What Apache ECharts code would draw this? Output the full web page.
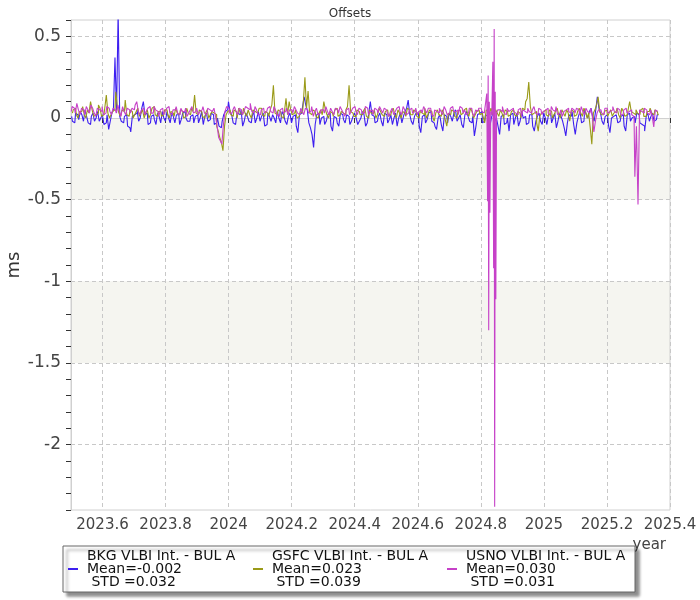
<!DOCTYPE html>
<html><head><meta charset="utf-8">
<script src="https://cdn.jsdelivr.net/npm/echarts@6/dist/echarts.min.js"></script>
<style>html,body{margin:0;padding:0;background:#fff}#c{width:700px;height:600px}</style>
</head><body><div id="c"></div>
<script>
// ---------- DATA ----------
const chartTitle = 'Offsets';
const xAxisName = 'year';
const yAxisName = 'ms';
const seriesNames = ['BKG VLBI Int. - BUL A', 'GSFC VLBI Int. - BUL A', 'USNO VLBI Int. - BUL A'];
const legendMeans = ['-0.002', '0.023', '0.030'];
const legendStds = ['0.032', '0.039', '0.031'];
const xTickValues = [2023.6, 2023.8, 2024, 2024.2, 2024.4, 2024.6, 2024.8, 2025, 2025.2, 2025.4];
const yLabelValues = [-2, -1.5, -1, -0.5, 0, 0.5];
const shadedBands = [[0, -0.5], [-1, -1.5]];

// sessions sampled about every 0.005 year: main values at start + i*step, mid values half a step later
const sampleStep = 0.01;
const bkgStartYear = 2023.502;
const gsfcStartYear = 2023.5045;
const usnoStartYear = 2023.501;

const bkgValues = [
  0.01, -0.03, 0.02, 0.04, -0.02, 0.01, -0.04, 0.03, 0.00, -0.02,
  0.02, -0.03, -0.07, 0.03, 0.37, 0.65, -0.02, 0.01, -0.05, -0.085,
  0.02, 0.05, 0.00, 0.10, 0.03, -0.03, 0.02, -0.04, 0.01, 0.04,
  -0.02, 0.00, 0.03, -0.03, 0.02, -0.01, 0.04, -0.02, 0.01, -0.03,
  0.02, 0.00, -0.04, 0.03, -0.01, 0.02, -0.03, -0.05, -0.02, 0.04,
  0.10, 0.02, -0.04, 0.03, 0.05, -0.02, 0.01, -0.03, 0.04, 0.00,
  -0.02, 0.03, -0.04, 0.01, 0.02, -0.03, 0.00, 0.04, -0.02, 0.01,
  -0.03, 0.02, -0.09, 0.03, 0.13, 0.05, -0.06, -0.18, 0.02, -0.04,
  0.01, -0.02, 0.03, -0.08, 0.00, -0.05, 0.02, -0.03, 0.01, -0.02,
  0.03, -0.04, 0.00, 0.02, -0.03, 0.10, 0.01, -0.02, 0.03, -0.05,
  0.02, -0.01, -0.04, 0.03, 0.00, -0.03, 0.04, 0.11, -0.02, 0.01,
  0.03, -0.09, 0.02, -0.01, 0.04, -0.03, -0.07, 0.02, -0.08, 0.01,
  0.03, -0.02, 0.05, 0.00, -0.04, 0.02, 0.01, -0.03, -0.11, 0.02,
  0.04, -0.02, 0.01, -0.04, 0.03, 0.00, -0.10, 0.02, -0.03, -0.08,
  0.03, 0.00, -0.05, 0.04, 0.01, -0.03, 0.02, -0.08, 0.01, -0.02,
  0.03, -0.04, 0.02, 0.00, -0.06, 0.03, -0.02, -0.11, 0.02, 0.04,
  -0.10, 0.01, -0.03, 0.05, 0.00, 0.06, -0.02, 0.13, 0.03, -0.04,
  0.02, -0.09, 0.01, 0.03, -0.02, 0.02, -0.08, 0.03, 0.00, -0.03,
  0.02, -0.04, -0.08, 0.03, 0.01, -0.02, 0.02
];
const bkgMidValues = [
  -0.02, 0.03, -0.01, 0.02, 0.05, -0.03, 0.01, -0.02, 0.04, 0.00,
  -0.04, 0.02, -0.02, 0.05, 0.03, 0.01, -0.03, 0.02, -0.06, 0.01,
  0.03, -0.02, 0.06, 0.02, -0.04, 0.01, -0.01, 0.03, -0.03, 0.00,
  0.04, -0.03, 0.01, 0.02, -0.04, 0.03, 0.00, -0.02, 0.02, 0.01,
  -0.03, 0.04, 0.01, -0.02, 0.03, -0.04, 0.00, -0.06, 0.02, 0.05,
  0.04, -0.03, 0.00, 0.02, -0.05, 0.03, -0.02, 0.01, -0.03, 0.04,
  0.01, -0.05, 0.03, -0.02, 0.00, 0.04, -0.03, 0.02, -0.04, 0.03,
  0.01, -0.05, 0.02, 0.07, 0.08, -0.03, -0.10, -0.04, 0.03, 0.00,
  -0.04, 0.02, -0.05, 0.01, -0.03, 0.03, -0.01, 0.02, -0.04, 0.01,
  0.00, -0.02, 0.04, -0.05, 0.03, 0.02, -0.03, 0.01, -0.02, 0.03,
  -0.03, 0.02, 0.00, -0.05, 0.03, 0.01, 0.06, 0.02, -0.04, 0.03,
  -0.05, 0.01, -0.03, 0.03, -0.02, -0.05, 0.00, -0.04, 0.02, -0.03,
  0.01, 0.03, -0.02, 0.02, -0.06, 0.04, -0.02, 0.01, -0.05, 0.03,
  -0.03, 0.02, -0.06, 0.01, -0.02, -0.05, 0.01, -0.04, 0.00, 0.02,
  -0.04, 0.03, -0.02, 0.00, -0.04, 0.02, -0.05, -0.02, 0.03, -0.04,
  0.00, 0.02, -0.03, 0.03, -0.02, 0.01, -0.06, -0.03, 0.01, -0.04,
  -0.03, 0.04, -0.02, 0.02, 0.04, 0.01, 0.05, 0.06, -0.02, 0.01,
  -0.04, 0.00, 0.02, -0.03, 0.01, -0.05, 0.02, -0.02, 0.01, 0.03,
  -0.03, -0.05, 0.01, -0.02, 0.03, -0.01
];

const gsfcValues = [
  0.03, 0.06, 0.00, 0.04, 0.02, 0.05, 0.10, 0.01, 0.03, 0.06,
  0.02, 0.14, 0.00, 0.04, 0.16, 0.03, 0.05, 0.11, 0.01, 0.04,
  0.02, 0.06, 0.03, 0.00, 0.05, 0.02, 0.07, 0.01, 0.04, 0.02,
  0.05, 0.00, 0.03, 0.06, 0.02, 0.04, 0.01, 0.03, 0.06, 0.14,
  0.02, 0.04, 0.00, 0.05, 0.02, 0.03, -0.05, -0.12, -0.20, 0.02,
  0.05, 0.01, 0.04, 0.06, 0.02, 0.03, 0.05, 0.00, 0.04, 0.02,
  0.06, 0.01, 0.03, 0.05, 0.20, 0.02, 0.04, 0.00, 0.12, 0.10,
  0.02, 0.05, 0.01, 0.03, 0.25, 0.165, 0.02, 0.04, 0.00, 0.05,
  0.10, 0.02, 0.04, 0.01, 0.06, 0.02, 0.03, 0.05, 0.20, 0.03,
  0.01, 0.04, 0.02, 0.06, 0.00, 0.03, 0.05, 0.02, 0.04, 0.01,
  0.05, 0.02, 0.06, 0.00, 0.03, 0.04, 0.01, 0.05, 0.02, 0.04,
  0.00, 0.03, 0.06, 0.02, 0.04, -0.02, 0.05, 0.01, 0.03, -0.05,
  0.02, 0.04, 0.00, 0.05, 0.03, 0.06, 0.01, 0.04, 0.02, 0.05,
  0.03, -0.03, 0.04, 0.06, 0.01, 0.03, 0.05, 0.00, 0.04, 0.02,
  0.05, 0.01, 0.03, 0.06, 0.10, 0.22, 0.02, 0.04, -0.08, 0.03,
  0.05, 0.01, 0.04, 0.02, 0.06, 0.00, 0.03, 0.05, -0.02, 0.04,
  0.02, 0.06, 0.01, 0.04, 0.03, -0.16, 0.05, 0.13, 0.02, 0.04,
  0.01, 0.05, 0.03, 0.06, 0.00, 0.04, 0.02, 0.10, 0.03, 0.05,
  0.02, 0.06, 0.01, 0.04, 0.03, 0.05, 0.02
];
const gsfcMidValues = [
  0.05, 0.02, 0.04, 0.07, 0.00, 0.03, 0.05, 0.02, 0.08, 0.01,
  0.06, 0.03, 0.02, 0.05, 0.07, 0.01, 0.04, 0.02, 0.05, 0.00,
  0.04, 0.01, 0.05, 0.03, 0.00, 0.06, 0.02, 0.04, 0.01, 0.05,
  0.02, 0.04, 0.01, 0.03, 0.05, 0.00, 0.06, 0.02, 0.04, 0.03,
  0.05, 0.01, 0.03, 0.00, 0.04, 0.02, -0.08, -0.15, -0.05, 0.04,
  0.02, 0.05, 0.00, 0.03, 0.06, 0.01, 0.02, 0.05, 0.03, 0.06,
  0.02, 0.04, 0.01, 0.08, 0.03, 0.05, 0.01, 0.04, 0.02, 0.05,
  0.03, 0.00, 0.04, 0.10, 0.06, 0.03, 0.05, 0.01, 0.03, 0.02,
  0.05, 0.00, 0.03, 0.05, 0.01, 0.04, 0.02, 0.07, 0.04, 0.01,
  0.05, 0.02, 0.04, 0.01, 0.05, 0.03, 0.00, 0.06, 0.02, 0.04,
  0.01, 0.04, 0.02, 0.05, 0.00, 0.03, 0.06, 0.02, 0.05, 0.01,
  0.04, 0.02, 0.00, 0.05, 0.01, 0.03, 0.02, 0.05, -0.01, 0.03,
  0.05, 0.01, 0.04, 0.02, 0.05, 0.03, 0.06, 0.00, 0.04, 0.02,
  0.01, 0.05, 0.02, 0.03, 0.05, 0.01, 0.03, 0.05, 0.01, 0.04,
  0.02, 0.04, 0.00, 0.05, 0.12, 0.07, 0.03, -0.03, 0.01, 0.04,
  0.02, 0.05, 0.00, 0.04, 0.02, 0.05, 0.01, 0.03, 0.05, 0.01,
  0.04, 0.03, 0.06, 0.00, -0.06, 0.03, 0.08, 0.04, 0.02, 0.05,
  0.03, 0.01, 0.04, 0.02, 0.06, 0.01, 0.05, 0.04, 0.02, 0.03,
  0.05, 0.01, 0.04, 0.06, 0.02, 0.04
];

const usnoValues = [
  0.04, 0.06, 0.09, 0.02, 0.05, 0.07, 0.03, 0.06, 0.01, 0.05,
  0.07, 0.03, 0.06, 0.02, 0.05, 0.08, 0.01, 0.04, 0.06, 0.03,
  0.05, 0.10, 0.02, 0.06, 0.04, 0.07, 0.03, 0.05, 0.01, 0.06,
  0.04, 0.07, 0.02, 0.05, 0.03, 0.06, 0.04, 0.01, 0.05, 0.03,
  0.06, 0.04, 0.07, 0.02, 0.05, 0.03, 0.01, -0.12, -0.16, 0.04,
  0.06, 0.03, 0.07, 0.02, 0.05, 0.04, 0.06, 0.09, 0.03, 0.05,
  0.02, 0.06, 0.04, 0.07, 0.03, 0.05, 0.01, 0.06, 0.04, 0.02,
  0.05, 0.07, 0.03, 0.06, 0.02, 0.05, 0.04, 0.01, 0.06, 0.03,
  0.05, 0.07, 0.02, 0.04, 0.06, 0.03, 0.05, 0.01, 0.06, 0.04,
  0.07, 0.02, 0.05, 0.03, 0.06, 0.04, 0.02, 0.05, 0.07, 0.03,
  0.05, 0.01, 0.06, 0.04, 0.07, 0.02, 0.05, 0.03, 0.06, 0.04,
  0.02, 0.05, 0.07, 0.03, 0.06, 0.01, 0.04, 0.06, 0.02, 0.05,
  0.03, 0.07, 0.04, 0.02, 0.06, 0.05, 0.03, 0.06, 0.01, 0.04,
  0.06, 0.03, 0.05, 0.04, 0.06, 0.03, 0.05, 0.07, 0.02, 0.04,
  0.06, 0.03, 0.05, 0.01, 0.04, 0.06, 0.03, 0.07, 0.02, 0.05,
  0.04, 0.06, 0.02, 0.05, 0.07, 0.03, 0.01, 0.05, 0.04, 0.06,
  0.03, 0.05, 0.07, 0.02, 0.04, 0.06, -0.085, 0.03, 0.05, 0.02,
  0.06, 0.04, 0.07, 0.03, 0.05, 0.02, 0.06, 0.04, 0.02, -0.36,
  -0.53, 0.04, 0.06, 0.03, 0.05, -0.055, 0.04
];
const usnoMidValues = [
  0.07, 0.03, 0.05, 0.06, 0.02, 0.05, 0.08, 0.03, 0.06, 0.04,
  0.02, 0.07, 0.04, 0.06, 0.03, 0.04, 0.07, 0.02, 0.05, 0.06,
  0.08, 0.04, 0.05, 0.02, 0.06, 0.03, 0.07, 0.04, 0.05, 0.02,
  0.06, 0.03, 0.05, 0.07, 0.02, 0.04, 0.06, 0.03, 0.07, 0.04,
  0.02, 0.05, 0.03, 0.06, 0.04, 0.06, -0.05, -0.14, -0.04, 0.07,
  0.03, 0.05, 0.04, 0.06, 0.02, 0.07, 0.05, 0.04, 0.07, 0.02,
  0.05, 0.03, 0.06, 0.04, 0.07, 0.02, 0.05, 0.03, 0.06, 0.05,
  0.03, 0.05, 0.02, 0.04, 0.06, 0.03, 0.07, 0.04, 0.02, 0.05,
  0.03, 0.04, 0.06, 0.02, 0.05, 0.07, 0.03, 0.05, 0.02, 0.06,
  0.04, 0.06, 0.03, 0.07, 0.02, 0.05, 0.06, 0.03, 0.05, 0.06,
  0.03, 0.04, 0.02, 0.06, 0.04, 0.07, 0.02, 0.05, 0.03, 0.06,
  0.04, 0.03, 0.05, 0.06, 0.02, 0.05, 0.03, 0.04, 0.07, 0.02,
  0.06, 0.04, 0.05, 0.07, 0.03, 0.02, 0.06, 0.03, 0.05, 0.06,
  0.04, 0.05, 0.03, 0.06, 0.02, 0.05, 0.04, 0.03, 0.06, 0.05,
  0.04, 0.02, 0.06, 0.05, 0.03, 0.04, 0.05, 0.03, 0.06, 0.02,
  0.05, 0.03, 0.07, 0.04, 0.02, 0.05, 0.04, 0.06, 0.03, 0.05,
  0.06, 0.02, 0.04, 0.06, 0.03, 0.01, -0.02, 0.05, 0.03, 0.06,
  0.03, 0.05, 0.04, 0.06, 0.02, 0.05, 0.03, 0.05, 0.01, -0.05,
  0.05, 0.03, 0.05, 0.02, 0.01, 0.05
];

// dense USNO burst around 2024.82-2024.85
const usnoBurstYears = [2024.8171, 2024.8205, 2024.8224, 2024.8240, 2024.8259, 2024.8278, 2024.8297, 2024.8329,
  2024.8367, 2024.8396, 2024.8415, 2024.8431, 2024.8446, 2024.8466, 2024.8485, 2024.8510];
const usnoBurstValues = [0.03, 0.15, -0.51, 0.26, -1.30, 0.10, -0.58, 0.04,
  0.02, 0.345, -0.92, 0.545, -2.38, 0.16, -1.11, 0.03];

// ---------- BUILD ----------
function toPairs(start, values, mids) {
  const out = [];
  values.forEach((v, i) => {
    out.push([start + i * sampleStep, v]);
    if (i < mids.length) out.push([start + (i + 0.5) * sampleStep, mids[i]]);
  });
  return out;
}
const bkgData = toPairs(bkgStartYear, bkgValues, bkgMidValues);
const gsfcData = toPairs(gsfcStartYear, gsfcValues, gsfcMidValues);
const burstLo = usnoBurstYears[0] - 0.002, burstHi = usnoBurstYears[usnoBurstYears.length - 1] + 0.002;
const usnoData = toPairs(usnoStartYear, usnoValues, usnoMidValues)
  .filter(p => p[0] < burstLo || p[0] > burstHi)
  .concat(usnoBurstYears.map((y, i) => [y, usnoBurstValues[i]]))
  .sort((a, b) => a[0] - b[0]);

const yMinorTicks = [];
for (let k = -24; k <= 6; k++) yMinorTicks.push(k / 10);

const colors = ['#3d1ff0', '#9a9a18', '#c641c8'];
const font = 'DejaVu Sans';
const gridDash = { color: '#c8c8c8', width: 1, type: [4, 3] };

const chart = echarts.init(document.getElementById('c'), null, { renderer: 'canvas' });

function lineSeries(idx, data) {
  return {
    name: seriesNames[idx], type: 'line', data: data, step: 'middle',
    showSymbol: false, symbol: 'none', z: 2 + idx,
    lineStyle: { color: colors[idx], width: 1.1 }, itemStyle: { color: colors[idx] },
    animation: false
  };
}

const option = {
  animation: false,
  textStyle: { fontFamily: font },
  title: {
    text: chartTitle, left: 'center', top: 3,
    textStyle: { fontFamily: font, fontSize: 12, fontWeight: 'normal', color: '#333' }
  },
  grid: {
    left: 71, right: 30, top: 20, bottom: 90, outerBoundsMode: 'none', containLabel: false,
    show: true, borderColor: '#d0d0d0', borderWidth: 1, backgroundColor: 'transparent'
  },
  graphic: [
    { type: 'text', right: 34, top: 538, silent: true,
      style: { text: xAxisName, fontFamily: font, fontSize: 15, fill: '#444' } }
  ],
  legend: {
    left: 63, top: 546, orient: 'horizontal',
    padding: [3, 5, 3, 5], itemGap: 0, itemWidth: 10, itemHeight: 2, icon: 'rect',
    backgroundColor: '#fff', borderColor: '#666', borderWidth: 1,
    shadowColor: 'rgba(0,0,0,0.45)', shadowBlur: 3, shadowOffsetX: 4, shadowOffsetY: 4,
    selectedMode: false,
    textStyle: { fontFamily: font, fontSize: 14, lineHeight: 13, color: '#111', padding: [0, 0, 0, 4] },
    data: [
      { name: seriesNames[0], textStyle: { width: 166 } },
      { name: seriesNames[1], textStyle: { width: 175 } },
      { name: seriesNames[2], textStyle: { width: 164 } }
    ],
    formatter: function (name) {
      const i = seriesNames.indexOf(name);
      return name + '\nMean=' + legendMeans[i] + '\n STD =' + legendStds[i];
    }
  },
  xAxis: {
    type: 'value', min: 2023.5, max: 2025.4,
    axisLine: { show: true, lineStyle: { color: '#d0d0d0' } },
    axisTick: { show: true, inside: false, length: 5, lineStyle: { color: '#333' }, customValues: xTickValues },
    axisLabel: {
      show: true, customValues: xTickValues, margin: 8, fontSize: 15, color: '#444', fontFamily: font,
      formatter: v => String(Math.round(v * 10) / 10)
    },
    splitLine: { show: true, lineStyle: gridDash }
  },
  yAxis: [
    {
      type: 'value', min: -2.4, max: 0.6, position: 'left',
      name: yAxisName, nameLocation: 'middle', nameGap: 48, nameRotate: 90, nameMoveOverlap: false,
      nameTextStyle: { fontFamily: font, fontSize: 18, color: '#333' },
      axisLine: { show: true, lineStyle: { color: '#d0d0d0' } },
      axisTick: { show: true, length: 5, lineStyle: { color: '#333' }, customValues: yMinorTicks },
      axisLabel: {
        show: true, customValues: yLabelValues, margin: 10, fontSize: 17, color: '#444', fontFamily: font,
        formatter: v => String(Math.round(v * 10) / 10)
      },
      splitLine: { show: false }
    },
    {
      type: 'value', min: -2.4, max: 0.6, position: 'left',
      axisLine: { show: false }, axisLabel: { show: false, customValues: yLabelValues },
      axisTick: { show: false, customValues: yLabelValues },
      splitLine: { show: true, lineStyle: gridDash }
    }
  ],
  series: [
    {
      name: 'bands', type: 'line', data: [], z: -1, silent: true,
      markArea: {
        silent: true, z: -1,
        itemStyle: { color: '#f5f5f0' },
        data: shadedBands.map(b => [{ yAxis: b[0] }, { yAxis: b[1] }])
      }
    },
    lineSeries(0, bkgData),
    lineSeries(1, gsfcData),
    lineSeries(2, usnoData)
  ]
};
chart.setOption(option);
</script>
</body></html>
